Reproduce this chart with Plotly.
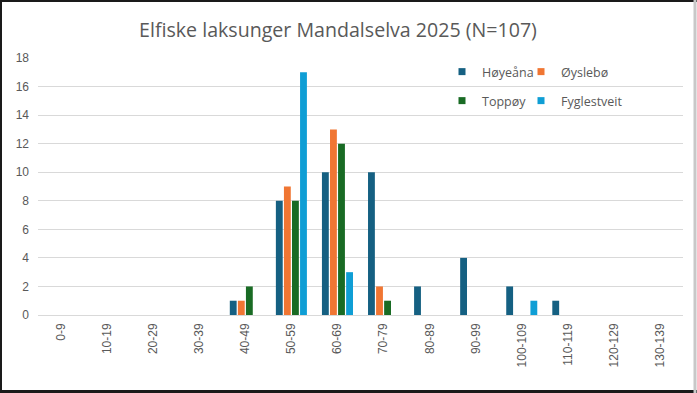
import plotly.graph_objects as go

categories = ["0-9", "10-19", "20-29", "30-39", "40-49", "50-59", "60-69",
              "70-79", "80-89", "90-99", "100-109", "110-119", "120-129", "130-139"]
hoyeana = [0, 0, 0, 0, 1, 8, 10, 10, 2, 4, 2, 1, 0, 0]
oyslebo = [0, 0, 0, 0, 1, 9, 13, 2, 0, 0, 0, 0, 0, 0]
toppoy = [0, 0, 0, 0, 2, 8, 12, 1, 0, 0, 0, 0, 0, 0]
fyglestveit = [0, 0, 0, 0, 0, 17, 3, 0, 0, 0, 1, 0, 0, 0]

series_names = ["Høyeåna", "Øyslebø", "Toppøy", "Fyglestveit"]
series_values = [hoyeana, oyslebo, toppoy, fyglestveit]
colors = ["#156082", "#F07633", "#196B24", "#0F9ED5"]

W, H = 697, 393
L, R, T, B = 38, 14, 58, 78
PW, PH = W - L - R, H - T - B


def px_x(px):
    return (px - L) / PW


def px_y(py):
    return (H - B - py) / PH


fig = go.Figure()
legend_ids = ["legend", "legend2", "legend3", "legend4"]
for name, vals, col, lid in zip(series_names, series_values, colors, legend_ids):
    fig.add_trace(go.Bar(x=categories, y=vals, name=name, marker_color=col,
                         marker_line_width=0, showlegend=False, legendgroup=name))
    fig.add_trace(go.Scatter(x=[None], y=[None], mode="markers", name=name,
                             marker=dict(symbol="square", size=7, color=col),
                             legend=lid, legendgroup=name, showlegend=True))

legend_font = dict(family="Open Sans, sans-serif", size=12.5, color="#595959")
legend_pos = [(442, 72), (521, 72), (442, 101), (521, 101)]
legend_cfg = {}
for lid, (lx, ly) in zip(legend_ids, legend_pos):
    legend_cfg[lid] = dict(x=px_x(lx), y=px_y(ly), xanchor="left", yanchor="middle",
                           font=legend_font, bgcolor="rgba(0,0,0,0)",
                           borderwidth=0, itemwidth=30, tracegroupgap=0)

fig.update_layout(
    width=W, height=H,
    margin=dict(l=L, r=R, t=T, b=B),
    paper_bgcolor="white", plot_bgcolor="white",
    barmode="group", bargap=0.3, bargroupgap=0.15,
    title=dict(text="Elfiske laksunger Mandalselva 2025 (N=107)",
               x=338 / W, xanchor="center", y=1 - 30 / H, yanchor="middle",
               font=dict(family="Open Sans, sans-serif", size=19.6, color="#595959")),
    xaxis=dict(type="category", tickangle=-90, showgrid=False, showline=False,
               ticks="", tickfont=dict(family="Liberation Sans, Arial, sans-serif",
                                       size=12, color="#595959"),
               ticklabelstandoff=5),
    yaxis=dict(range=[0, 18], dtick=2, showgrid=True, gridcolor="#D9D9D9",
               gridwidth=1, zeroline=True, zerolinecolor="#D9D9D9", zerolinewidth=1,
               showline=False, ticks="",
               tickfont=dict(family="Liberation Sans, Arial, sans-serif",
                             size=12, color="#595959"),
               ticklabelstandoff=8),
    **legend_cfg,
)

# outer frame of the picture
frame = [
    (0, 1, W, 1, "#1a1a1a", 2),
    (1, 0, 1, H, "#1a1a1a", 2),
    (0, H - 1.5, W, H - 1.5, "#1a1a1a", 3),
    (W - 2, 0, W - 2, H, "#c8c8c8", 3),
]
for x0, y0, x1, y1, c, w in frame:
    fig.add_shape(type="line", xref="paper", yref="paper",
                  x0=px_x(x0), y0=px_y(y0), x1=px_x(x1), y1=px_y(y1),
                  line=dict(color=c, width=w), layer="above")

fig.write_html("out.html", config={"displayModeBar": False},
               post_script="document.body.style.margin='0';document.body.style.overflow='hidden';")
